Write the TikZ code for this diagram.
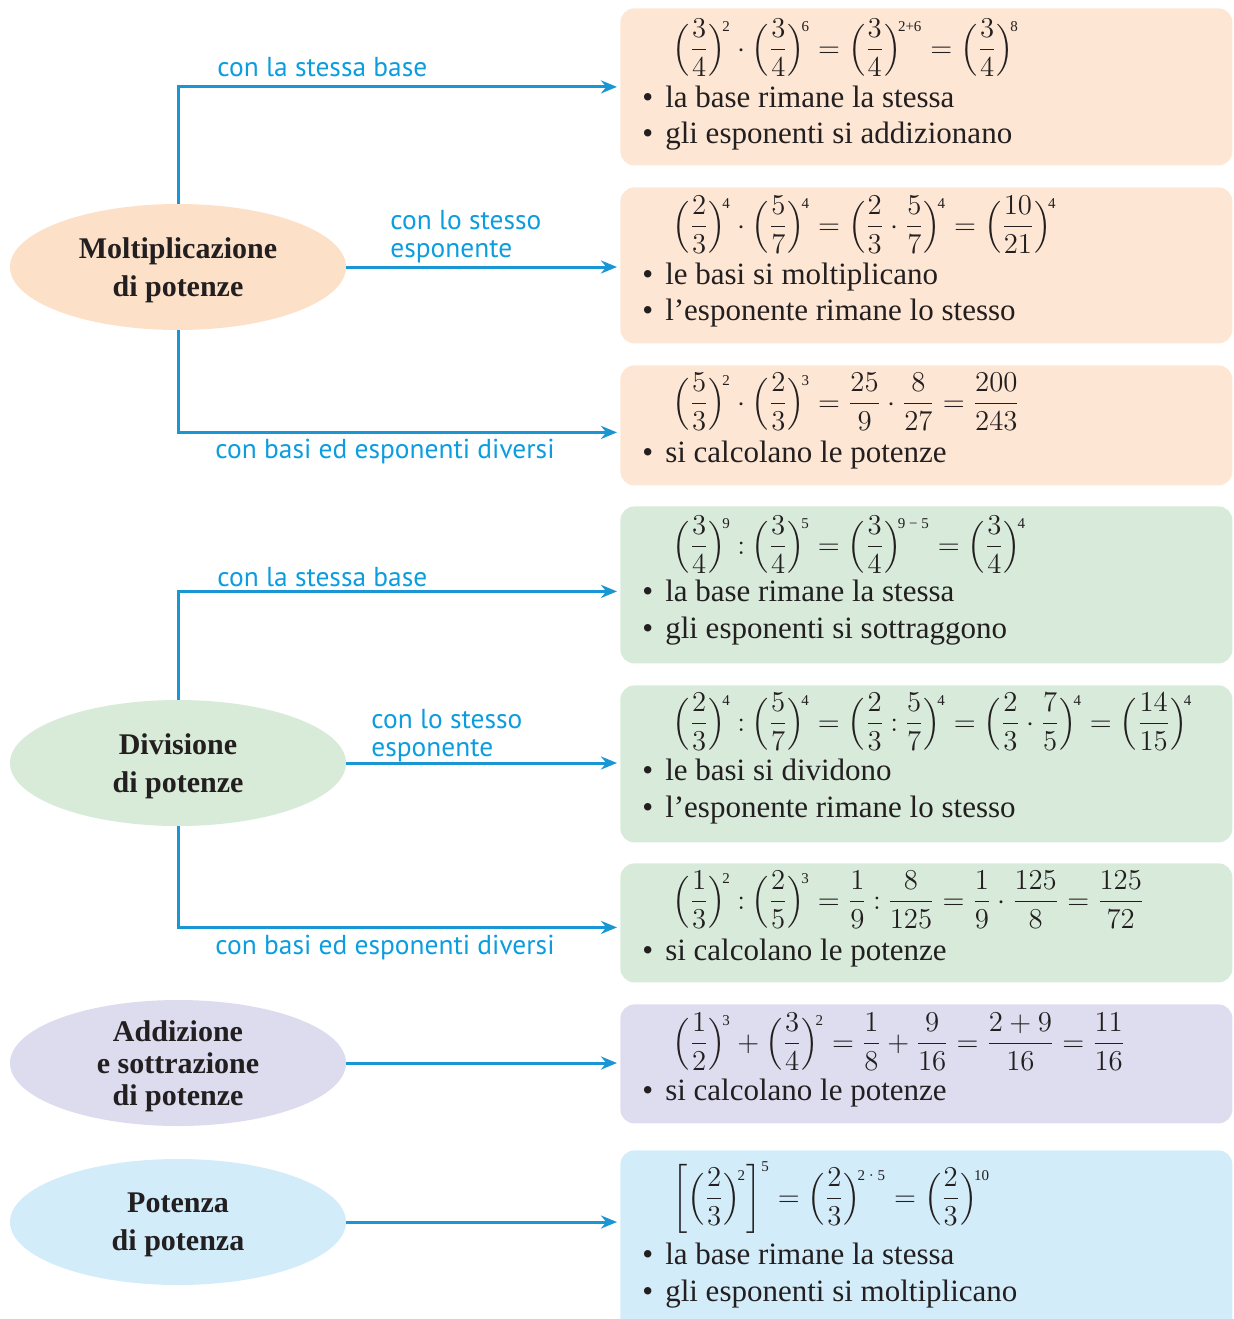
\documentclass[tikz,border=0pt]{standalone}
\usepackage{amsmath}
\usepackage{fontspec}
\setmainfont{Liberation Serif}
\newfontfamily\numfont{Liberation Serif}[NFSSFamily=lsr]
\newfontfamily\lblfont{PT Sans}
\DeclareSymbolFont{operators}{TU}{lsr}{m}{n}
\usetikzlibrary{arrows.meta,positioning,shapes.geometric}

\definecolor{arrblue}{HTML}{1A96D4}
\definecolor{lblblue}{HTML}{0C9DDE}
\definecolor{inktext}{HTML}{231F20}
\definecolor{peachbox}{HTML}{FDE6D3}
\definecolor{peachell}{HTML}{FCE0C8}
\definecolor{greenbox}{HTML}{D8EADA}
\definecolor{greenell}{HTML}{D8EAD8}
\definecolor{lilacbox}{HTML}{DEDDEF}
\definecolor{lilacell}{HTML}{DCDCEE}
\definecolor{skybox}{HTML}{D3ECF9}
\definecolor{skyell}{HTML}{D2ECF9}

% exponent and power of a fraction
\newcommand{\ex}[1]{\text{\fontsize{7.5}{8}\selectfont #1}}
\newcommand{\pw}[3]{\Bigl(\dfrac{#1}{#2}\Bigr)^{\!\ex{#3}}}
\newcommand{\dv}{\mathbin{:}}

\begin{document}
\begin{tikzpicture}[x=0.5pt,y=-0.5pt,
  every node/.style={text=inktext},
  topic/.style={ellipse,minimum width=168pt,minimum height=63pt,inner sep=0pt,text depth=0pt,align=center,font=\fontsize{15}{19}\selectfont\bfseries},
  card/.style={rounded corners=7pt,minimum width=306pt,anchor=north west,inner sep=0pt},
  formula/.style={anchor=base west,inner sep=0pt,font=\fontsize{14}{17}\selectfont},
  point/.style={anchor=base west,inner sep=0pt,font=\fontsize{15.5}{18.5}\selectfont},
  lbl/.style={inner sep=0pt,text=lblblue,align=left,font=\lblfont\fontsize{13.7}{14}\selectfont},
  arr/.style={-{Stealth[length=8pt,width=6.5pt]},draw=arrblue,line width=1.5pt,shorten >=1.5pt}]
\useasboundingbox (0,0) rectangle (1234,1319);

% topics
\node[topic,fill=peachell] (e1) at (178,267) {Moltiplicazione\\di potenze};
\node[topic,fill=greenell] (e2) at (178,763) {Divisione\\di potenze};
\node[topic,fill=lilacell,font=\fontsize{15}{16}\selectfont\bfseries] (e3) at (178,1063) {Addizione\\e sottrazione\\di potenze};
\node[topic,fill=skyell] (e4) at (178,1222) {Potenza\\di potenza};

% cards
\node[card,fill=peachbox,minimum height=78.5pt] (b1) at (620,8) {};
\node[card,fill=peachbox,minimum height=78pt] (b2) at (620,187) {};
\node[card,fill=peachbox,minimum height=60pt] (b3) at (620,365) {};
\node[card,fill=greenbox,minimum height=78.5pt] (b4) at (620,506) {};
\node[card,fill=greenbox,minimum height=78.5pt] (b5) at (620,685) {};
\node[card,fill=greenbox,minimum height=59.5pt] (b6) at (620,863) {};
\node[card,fill=lilacbox,minimum height=59.5pt] (b7) at (620,1004) {};
\node[card,fill=skybox,minimum height=95pt] (b8) at (620,1150) {};

% card contents
\node[formula] (f1) at (672,57) {$\pw{3}{4}{2}\cdot\pw{3}{4}{6}=\pw{3}{4}{2+6}=\pw{3}{4}{8}$};
\node[point] (p1a) at (642,107) {\textbullet\hspace{6pt}la base rimane la stessa};
\node[point] (p1b) at (642,143) {\textbullet\hspace{6pt}gli esponenti si addizionano};

\node[formula] (f2) at (672,234) {$\pw{2}{3}{4}\cdot\pw{5}{7}{4}=\Bigl(\dfrac{2}{3}\cdot\dfrac{5}{7}\Bigr)^{\!\ex{4}}=\pw{10}{21}{4}$};
\node[point] (p2a) at (642,284) {\textbullet\hspace{6pt}le basi si moltiplicano};
\node[point] (p2b) at (642,320) {\textbullet\hspace{6pt}l’esponente rimane lo stesso};

\node[formula] (f3) at (672,411) {$\pw{5}{3}{2}\cdot\pw{2}{3}{3}=\dfrac{25}{9}\cdot\dfrac{8}{27}=\dfrac{200}{243}$};
\node[point] (p3a) at (642,462) {\textbullet\hspace{6pt}si calcolano le potenze};

\node[formula] (f4) at (672,554) {$\pw{3}{4}{9}\dv\pw{3}{4}{5}=\pw{3}{4}{9 − 5}=\pw{3}{4}{4}$};
\node[point] (p4a) at (642,601) {\textbullet\hspace{6pt}la base rimane la stessa};
\node[point] (p4b) at (642,638) {\textbullet\hspace{6pt}gli esponenti si sottraggono};

\node[formula] (f5) at (672,731) {$\pw{2}{3}{4}\dv\pw{5}{7}{4}=\Bigl(\dfrac{2}{3}\dv\dfrac{5}{7}\Bigr)^{\!\ex{4}}=\Bigl(\dfrac{2}{3}\cdot\dfrac{7}{5}\Bigr)^{\!\ex{4}}=\pw{14}{15}{4}$};
\node[point] (p5a) at (642,780) {\textbullet\hspace{6pt}le basi si dividono};
\node[point] (p5b) at (642,817) {\textbullet\hspace{6pt}l’esponente rimane lo stesso};

\node[formula] (f6) at (672,909) {$\pw{1}{3}{2}\dv\pw{2}{5}{3}=\dfrac{1}{9}\dv\dfrac{8}{125}=\dfrac{1}{9}\cdot\dfrac{125}{8}=\dfrac{125}{72}$};
\node[point] (p6a) at (642,960) {\textbullet\hspace{6pt}si calcolano le potenze};

\node[formula] (f7) at (672,1051) {$\pw{1}{2}{3}+\pw{3}{4}{2}=\dfrac{1}{8}+\dfrac{9}{16}=\dfrac{2+9}{16}=\dfrac{11}{16}$};
\node[point] (p7a) at (642,1100) {\textbullet\hspace{6pt}si calcolano le potenze};

\node[formula] (f8) at (672,1206) {$\biggl[\pw{2}{3}{2}\biggr]^{\ex{5}}=\pw{2}{3}{2 · 5}=\pw{2}{3}{10}$};
\node[point] (p8a) at (642,1264) {\textbullet\hspace{6pt}la base rimane la stessa};
\node[point] (p8b) at (642,1301) {\textbullet\hspace{6pt}gli esponenti si moltiplicano};

% connectors
\draw[arr] (e1.north) |- (b1.west);
\draw[arr] (e1.east) -- (e1.east -| b2.west);
\draw[arr] (e1.south) |- ([yshift=-3.5pt]b3.west);
\draw[arr] (e2.north) |- ([yshift=-3.25pt]b4.west);
\draw[arr] (e2.east) -- (e2.east -| b5.west);
\draw[arr] (e2.south) |- ([yshift=-2.25pt]b6.west);
\draw[arr] (e3.east) -- (e3.east -| b7.west);
\draw[arr] (e4.east) -- (e4.east -| b8.west);

% connector labels
\node[lbl,anchor=base west] (l1) at (217,76) {con la stessa base};
\node[lbl,anchor=south west] (l2) at (390,263) {con lo stesso\\esponente};
\node[lbl,anchor=base west] (l3) at (215,458) {con basi ed esponenti diversi};
\node[lbl,anchor=base west] (l4) at (217,586) {con la stessa base};
\node[lbl,anchor=south west] (l5) at (371,762) {con lo stesso\\esponente};
\node[lbl,anchor=base west] (l6) at (215,954) {con basi ed esponenti diversi};
\end{tikzpicture}
\end{document}
